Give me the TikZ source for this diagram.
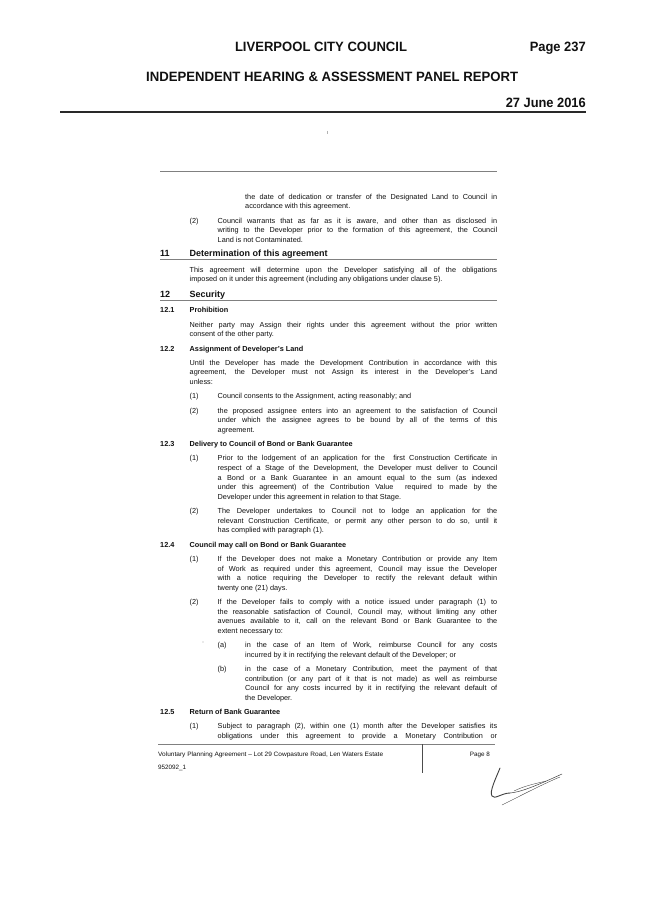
\documentclass[tikz,border=0pt]{standalone}
\usepackage{fontspec}
\setmainfont{Liberation Sans}
\usepackage{graphicx}
\newcommand\bodyfont{\fontsize{7.3}{9.6}\selectfont}
\newcommand\footfont{\fontsize{6.3}{7.5}\selectfont}
\newcommand\hdrfont{\fontsize{13.5}{15}\selectfont\bfseries}
\newcommand\Para[2]{\vtop{\hsize=#1\relax\parindent=0pt\baselineskip=9.6pt\lineskip=0pt\lineskiplimit=-20pt #2}}
\newcommand\JL[1]{\hbox to\hsize{#1}}
\newcommand\LL[1]{\hbox{#1}}
\newcommand\fitw[2]{\resizebox{#1}{\height}{#2}}
\definecolor{ink}{HTML}{111111}
\definecolor{rulegray}{HTML}{808080}
\tikzset{
  txt/.style={anchor=base west, inner sep=0pt, font=\bodyfont, text=ink},
  num/.style={txt},
  sect/.style={anchor=base west, inner sep=0pt, font=\fontsize{9}{11}\selectfont\bfseries, text=ink},
  subsect/.style={anchor=base west, inner sep=0pt, font=\fontsize{7.3}{9}\selectfont\bfseries, text=ink},
  hdr/.style={inner sep=0pt, font=\hdrfont, text=ink},
  foot/.style={anchor=base west, inner sep=0pt, font=\footfont, text=ink},
  hdrrule/.style={draw=ink!90, line width=1.4pt},
  secrule/.style={draw=rulegray, line width=0.7pt},
  speck/.style={fill=black!35, draw=none},
  sig/.style={draw=black!75, line cap=round, line join=round},
}
\begin{document}
\begin{tikzpicture}[x=1pt,y=-1pt]
\fill[white] (0,0) rectangle (653,923);
\useasboundingbox (0,0) rectangle (653,923);

% ---------- header ----------
\node[hdr, anchor=base] (h1) at (321,52) {\fitw{172pt}{LIVERPOOL CITY COUNCIL}};
\node[hdr, anchor=base east] (h2) at (586,52) {\fitw{56pt}{Page 237}};
\node[hdr, anchor=base west] (h3) at (146,82) {\fitw{372pt}{INDEPENDENT HEARING \& ASSESSMENT PANEL REPORT}};
\node[hdr, anchor=base east] (h4) at (586,107) {\fitw{80pt}{27 June 2016}};
\coordinate (hl) at (60,112); \coordinate (hr) at (586,112);
\draw[hdrrule] (hl) -- (hr);

% scan speck
\coordinate (k1) at (327,131); \coordinate (k2) at (327,134);
\draw[draw=black!30, line width=0.5pt] (k1) -- (k2);

% ---------- top rule ----------
\coordinate (tl) at (160,171); \coordinate (tr) at (497,171);
\draw[secrule] (tl) -- (tr);

% ---------- continuation ----------
\node[txt] (p0) at (245,199.1) {\Para{252pt}{%
\JL{the date of dedication or transfer of the Designated Land to Council in}
\LL{accordance with this agreement.}}};
\node[num] (n0) at (189.5,223) {(2)};
\node[txt] (p1) at (217.5,223) {\Para{279.5pt}{%
\JL{Council warrants that as far as it is aware, and other than as disclosed in}
\JL{writing to the Developer prior to the formation of this agreement, the Council}
\LL{Land is not Contaminated.}}};

% ---------- 11 ----------
\node[sect] (s11n) at (160,256.8) {11};
\node[sect] (s11) at (189.5,256.8) {Determination of this agreement};
\coordinate (r11l) at (160,259.5); \coordinate (r11r) at (497,259.5);
\draw[secrule] (r11l) -- (r11r);
\node[txt] (p2) at (189.5,272.2) {\Para{307.5pt}{%
\JL{This agreement will determine upon the Developer satisfying all of the obligations}
\LL{imposed on it under this agreement (including any obligations under clause 5).}}};

% ---------- 12 ----------
\node[sect] (s12n) at (160,297.4) {12};
\node[sect] (s12) at (189.5,297.4) {Security};
\coordinate (r12l) at (160,300); \coordinate (r12r) at (497,300);
\draw[secrule] (r12l) -- (r12r);

\node[subsect] (s121n) at (160,312.8) {12.1};
\node[subsect] (s121) at (189.5,312.8) {Prohibition};
\node[txt] (p3) at (189.5,327.1) {\Para{307.5pt}{%
\JL{Neither party may Assign their rights under this agreement without the prior written}
\LL{consent of the other party.}}};

\node[subsect] (s122n) at (160,351.0) {12.2};
\node[subsect] (s122) at (189.5,351.0) {Assignment of Developer's Land};
\node[txt] (p4) at (189.5,365.3) {\Para{307.5pt}{%
\JL{Until the Developer has made the Development Contribution in accordance with this}
\JL{agreement, the Developer must not Assign its interest in the Developer's Land}
\LL{unless:}}};
\node[num] (n41) at (189.5,398.8) {(1)};
\node[txt] (p41) at (217.5,398.8) {Council consents to the Assignment, acting reasonably; and};
\node[num] (n42) at (189.5,413.1) {(2)};
\node[txt] (p42) at (217.5,413.1) {\Para{279.5pt}{%
\JL{the proposed assignee enters into an agreement to the satisfaction of Council}
\JL{under which the assignee agrees to be bound by all of the terms of this}
\LL{agreement.}}};

\node[subsect] (s123n) at (160,446.6) {12.3};
\node[subsect] (s123) at (189.5,446.6) {Delivery to Council of Bond or Bank Guarantee};
\node[num] (n51) at (189.5,460.9) {(1)};
\node[txt] (p51) at (217.5,460.9) {\Para{279.5pt}{%
\JL{Prior to the lodgement of an application for the \ first Construction Certificate in}
\JL{respect of a Stage of the Development, the Developer must deliver to Council}
\JL{a Bond or a Bank Guarantee in an amount equal to the sum (as indexed}
\JL{under this agreement) of the Contribution Value \ required to made by the}
\LL{Developer under this agreement in relation to that Stage.}}};
\node[num] (n52) at (189.5,513.6) {(2)};
\node[txt] (p52) at (217.5,513.6) {\Para{279.5pt}{%
\JL{The Developer undertakes to Council not to lodge an application for the}
\JL{relevant Construction Certificate, or permit any other person to do so, until it}
\LL{has complied with paragraph (1).}}};

\node[subsect] (s124n) at (160,547.1) {12.4};
\node[subsect] (s124) at (189.5,547.1) {Council may call on Bond or Bank Guarantee};
\node[num] (n61) at (189.5,561.4) {(1)};
\node[txt] (p61) at (217.5,561.4) {\Para{279.5pt}{%
\JL{If the Developer does not make a Monetary Contribution or provide any Item}
\JL{of Work as required under this agreement, Council may issue the Developer}
\JL{with a notice requiring the Developer to rectify the relevant default within}
\LL{twenty one (21) days.}}};
\node[num] (n62) at (189.5,604.5) {(2)};
\node[txt] (p62) at (217.5,604.5) {\Para{279.5pt}{%
\JL{If the Developer fails to comply with a notice issued under paragraph (1) to}
\JL{the reasonable satisfaction of Council, Council may, without limiting any other}
\JL{avenues available to it, call on the relevant Bond or Bank Guarantee to the}
\LL{extent necessary to:}}};
\node[speck, circle, inner sep=0pt, minimum size=1.2pt] (dot) at (203,642) {};
\node[num] (n6a) at (217.5,647.6) {(a)};
\node[txt] (p6a) at (245,647.6) {\Para{252pt}{%
\JL{in the case of an Item of Work, reimburse Council for any costs}
\LL{incurred by it in rectifying the relevant default of the Developer; or}}};
\node[num] (n6b) at (217.5,671.5) {(b)};
\node[txt] (p6b) at (245,671.5) {\Para{252pt}{%
\JL{in the case of a Monetary Contribution, meet the payment of that}
\JL{contribution (or any part of it that is not made) as well as reimburse}
\JL{Council for any costs incurred by it in rectifying the relevant default of}
\LL{the Developer.}}};

\node[subsect] (s125n) at (160,714.6) {12.5};
\node[subsect] (s125) at (189.5,714.6) {Return of Bank Guarantee};
\node[num] (n71) at (189.5,728.9) {(1)};
\node[txt] (p71) at (217.5,728.9) {\Para{279.5pt}{%
\JL{Subject to paragraph (2), within one (1) month after the Developer satisfies its}
\JL{obligations under this agreement to provide a Monetary Contribution or}}};

% ---------- footer ----------
\coordinate (fl) at (158,744); \coordinate (fr) at (495,744);
\draw[secrule] (fl) -- (fr);
\coordinate (vt) at (422,744); \coordinate (vb) at (422,773);
\draw[draw=black!70, line width=0.7pt] (vt) -- (vb);
\node[foot] (f1) at (158,756.5) {\fitw{225pt}{Voluntary Planning Agreement -- Lot 29 Cowpasture Road, Len Waters Estate}};
\node[foot, anchor=base east] (f2) at (490,756.5) {Page 8};
\node[foot] (f3) at (158,769) {952092\_1};

% ---------- signature ----------
\coordinate (sa) at (500,768);
\coordinate (sb) at (492,796);
\coordinate (sc) at (510,793);
\coordinate (sd) at (562,774);
\coordinate (se) at (502,805);
\coordinate (sf) at (560,777);
\draw[sig, line width=0.9pt] (sa) .. controls (496,778) and (489,792) .. (sb)
  .. controls (494,800) and (502,793) .. (sc);
\draw[sig, line width=0.5pt] (sc) .. controls (522,792) and (540,784) .. (sd);
\draw[sig, line width=0.35pt] (se) .. controls (520,796) and (545,783) .. (sf);
\draw[sig, line width=0.35pt] (514,791) .. controls (524,786) and (534,784) .. (546,781);
\end{tikzpicture}
\end{document}
